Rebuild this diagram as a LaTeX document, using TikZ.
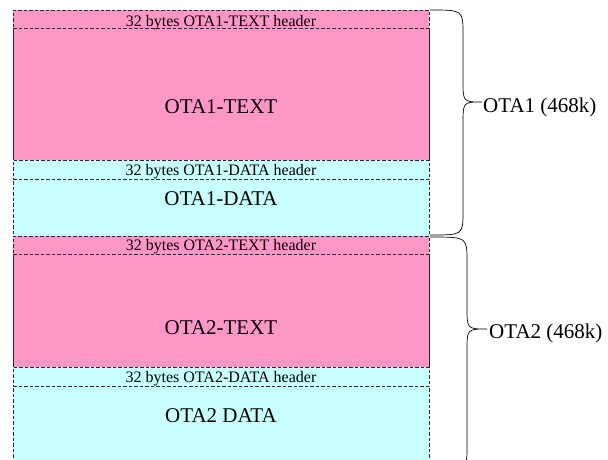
\documentclass[tikz,border=0pt]{standalone}
\usepackage{fontspec}
\setmainfont{Liberation Serif}
\definecolor{pinkfill}{RGB}{255,150,200}
\definecolor{cyanfill}{RGB}{200,255,255}
\definecolor{edge}{RGB}{40,40,40}
\begin{document}
\begin{tikzpicture}[x=1pt,y=-1pt,
  blk/.style={inner sep=0pt,outer sep=0pt,minimum width=416pt},
  dsh/.style={draw=edge,line width=0.6pt,dash pattern=on 3.5pt off 2pt},
  sld/.style={draw=edge,line width=0.6pt},
  small/.style={font=\fontsize{16}{16}\selectfont,anchor=base,inner sep=0pt},
  big/.style={font=\fontsize{21}{21}\selectfont,anchor=base,inner sep=0pt},
  brc/.style={draw=black,line width=0.7pt},
  lbl/.style={font=\fontsize{21}{21}\selectfont,anchor=base west,inner sep=0pt}]
\useasboundingbox (0,0) rectangle (608,459);
\clip (0,0) rectangle (608,459);
% OTA1
\node[blk,fill=pinkfill,minimum height=18pt,dsh] (h1) at (221,19) {};
\node[blk,fill=pinkfill,minimum height=132pt] (t1) at (221,94) {};
\draw[sld] (t1.north west) -- (t1.south west) -- (t1.south east) -- (t1.north east);
\draw[dsh] (h1.south west) -- (h1.south east);
\node[blk,fill=cyanfill,minimum height=19pt,dsh] (dh1) at (221,169.5) {};
\node[blk,fill=cyanfill,minimum height=57pt,dsh] (d1) at (221,207.5) {};
% OTA2
\node[blk,fill=pinkfill,minimum height=18pt,dsh] (h2) at (221,245) {};
\node[blk,fill=pinkfill,minimum height=113pt] (t2) at (221,310.5) {};
\draw[sld] (t2.north west) -- (t2.south west) -- (t2.south east) -- (t2.north east);
\draw[dsh] (h2.south west) -- (h2.south east);
\node[blk,fill=cyanfill,minimum height=19pt,dsh] (dh2) at (221,376.5) {};
\node[blk,fill=cyanfill,minimum height=90pt,dsh] (d2) at (221,431) {};
% texts
\node[small] (th1) at (221,26) {32 bytes OTA1-TEXT header};
\node[big] (tt1) at (221,113) {OTA1-TEXT};
\node[small] (tdh1) at (221,175) {32 bytes OTA1-DATA header};
\node[big] (td1) at (221,205) {OTA1-DATA};
\node[small] (th2) at (221,250) {32 bytes OTA2-TEXT header};
\node[big] (tt2) at (221,334) {OTA2-TEXT};
\node[small] (tdh2) at (221,382) {32 bytes OTA2-DATA header};
\node[big] (td2) at (221,422) {OTA2 DATA};
% braces
\coordinate (b1top) at (430,10);
\coordinate (b1tip) at (482,102);
\coordinate (b1bot) at (430,235);
\draw[brc] (b1top) .. controls (463,10) .. (463,34) -- (463,80)
  .. controls (463,102) .. (b1tip) .. controls (463,102) .. (463,124)
  -- (463,212) .. controls (463,235) .. (b1bot);
\node[lbl] (l1) at (483,112) {OTA1 (468k)};
\coordinate (b2top) at (430,237);
\coordinate (b2tip) at (487,329);
\coordinate (b2bot) at (430,470);
\draw[brc] (b2top) .. controls (467,237) .. (467,261) -- (467,307)
  .. controls (467,329) .. (b2tip) .. controls (467,329) .. (467,351)
  -- (467,447) .. controls (467,470) .. (b2bot);
\node[lbl] (l2) at (489,338) {OTA2 (468k)};
\end{tikzpicture}
\end{document}
